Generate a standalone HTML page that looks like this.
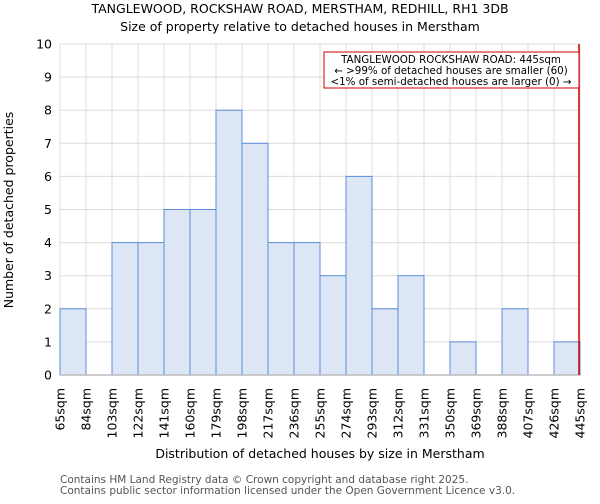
<!DOCTYPE html>
<html><head><meta charset="utf-8"><style>
body{margin:0;background:#fff;font-family:"DejaVu Sans","Liberation Sans",sans-serif;}
svg text{font-family:"DejaVu Sans","Liberation Sans",sans-serif;}
</style></head><body>
<svg id="c" width="600" height="500" viewBox="0 0 600 500">
<text x="300" y="13" text-anchor="middle" font-size="12.5">TANGLEWOOD, ROCKSHAW ROAD, MERSTHAM, REDHILL, RH1 3DB</text>
<text x="300" y="31" text-anchor="middle" font-size="12.5">Size of property relative to detached houses in Merstham</text>
<g id="grid"></g><g id="bars"></g><g id="axes"></g>
<text transform="translate(13,210) rotate(-90)" text-anchor="middle" font-size="12.5">Number of detached properties</text>
<text x="320" y="458" text-anchor="middle" font-size="12.5">Distribution of detached houses by size in Merstham</text>
<text x="60" y="483" font-size="10.5" fill="#555">Contains HM Land Registry data © Crown copyright and database right 2025.</text>
<text x="60" y="494" font-size="10.5" fill="#555">Contains public sector information licensed under the Open Government Licence v3.0.</text>
</svg>
<script>
const categories=["65sqm","84sqm","103sqm","122sqm","141sqm","160sqm","179sqm","198sqm","217sqm","236sqm","255sqm","274sqm","293sqm","312sqm","331sqm","350sqm","369sqm","388sqm","407sqm","426sqm","445sqm"];
const counts=[2,0,4,4,5,5,8,7,4,4,3,6,2,3,0,1,0,2,0,1];
const yTicks=[0,1,2,3,4,5,6,7,8,9,10];
const markerIndex=20;
const L=60,R=580,T=44,B=375,yMax=10;
const n=counts.length,bw=(R-L)/n;
const xs=i=>L+i*bw, ys=v=>B-(B-T)*v/yMax;
const NS="http://www.w3.org/2000/svg";
function mk(t,a,p){const e=document.createElementNS(NS,t);for(const k in a)e.setAttribute(k,a[k]);p.appendChild(e);return e;}
const g=document.getElementById('grid'),bg=document.getElementById('bars'),ax=document.getElementById('axes');
yTicks.forEach(v=>{const l=mk('line',{x1:L,x2:R,y1:ys(v),y2:ys(v),stroke:'#dcdcdc','stroke-width':1},g);

const t=mk('text',{x:L-8,y:ys(v)+4.5,'text-anchor':'end','font-size':'12.5'},ax);t.textContent=v;
});
categories.forEach((c,i)=>{const l=mk('line',{x1:xs(i),x2:xs(i),y1:T,y2:B,stroke:'#dcdcdc','stroke-width':1},g);

const t=mk('text',{transform:`translate(${xs(i)+4.5},388) rotate(-90)`,'text-anchor':'end','font-size':'12.5'},ax);t.textContent=c;
});
counts.forEach((v,i)=>{if(v<=0)return;const r=mk('rect',{x:xs(i),y:ys(v),width:bw,height:B-ys(v),fill:'#dce6f4',stroke:'#5b8ddb','stroke-width':1},bg);
});
const ba=mk('line',{x1:L,x2:R,y1:B,y2:B,stroke:'#bbb','stroke-width':1.5},ax);

const ml=mk('line',{x1:xs(markerIndex)-1,x2:xs(markerIndex)-1,y1:T,y2:B,stroke:'#cc0000','stroke-width':1.5},ax);

const box=mk('rect',{x:324,y:52,width:255,height:36,fill:'#fff',stroke:'#cc0000','stroke-width':1},ax);

["TANGLEWOOD ROCKSHAW ROAD: 445sqm","← >99% of detached houses are smaller (60)","<1% of semi-detached houses are larger (0) →"].forEach((s,i)=>{
const t=mk('text',{x:451,y:63+i*11,'text-anchor':'middle','font-size':'10.3'},ax);t.textContent=s;
});
</script>
</body></html>
